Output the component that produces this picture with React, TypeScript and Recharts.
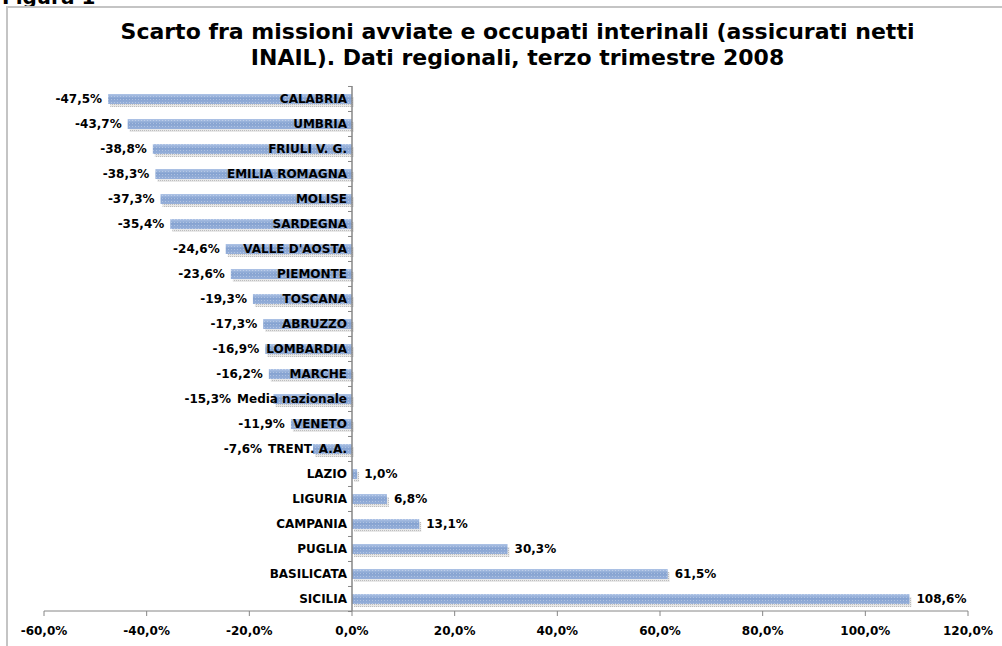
import { BarChart, Bar, XAxis, YAxis, ReferenceLine } from "recharts"

const regions = [
  "CALABRIA", "UMBRIA", "FRIULI V. G.", "EMILIA ROMAGNA", "MOLISE", "SARDEGNA",
  "VALLE D'AOSTA", "PIEMONTE", "TOSCANA", "ABRUZZO", "LOMBARDIA", "MARCHE",
  "Media nazionale", "VENETO", "TRENT. A.A.", "LAZIO", "LIGURIA", "CAMPANIA",
  "PUGLIA", "BASILICATA", "SICILIA",
]
const scarto = [
  -47.5, -43.7, -38.8, -38.3, -37.3, -35.4, -24.6, -23.6, -19.3, -17.3, -16.9,
  -16.2, -15.3, -11.9, -7.6, 1.0, 6.8, 13.1, 30.3, 61.5, 108.6,
]
const xTicks = [-60, -40, -20, 0, 20, 40, 60, 80, 100, 120]

const data = regions.map((name, i) => ({ name, value: scarto[i] }))

const FONT = "Verdana, 'DejaVu Sans', sans-serif"
const LABEL_SIZE = 12
const pct = (v: number) => v.toFixed(1).replace(".", ",") + "%"

let ctx: CanvasRenderingContext2D | null = null
function textWidth(s: string) {
  if (!ctx) ctx = document.createElement("canvas").getContext("2d")
  if (!ctx) return s.length * LABEL_SIZE * 0.7
  ctx.font = `bold ${LABEL_SIZE}px 'DejaVu Sans'`
  return ctx.measureText(s).width
}

function BarShape(props: any) {
  const { x, y, width, height, payload, index } = props
  const left = Math.min(x, x + width)
  const w = Math.abs(width)
  const neg = payload.value < 0
  const zero = neg ? left + w : left
  const cy = y + height / 2
  const band = 25.05
  const nameStart = zero - 5 - textWidth(payload.name)
  const valueX = neg ? Math.min(left, nameStart) - 6 : left + w + 7
  return (
    <g>
      <rect x={left + 2} y={y + 3} width={w} height={height} fill="url(#shadowPat)" />
      <rect x={left} y={y} width={w} height={height} fill="url(#barGrad)" />
      <rect x={left} y={y} width={w} height={height} fill="url(#barPat)" />
      <line x1={zero - 4} x2={zero} y1={cy - band / 2} y2={cy - band / 2} stroke="#868686" />
      {index === regions.length - 1 && (
        <line x1={zero - 4} x2={zero} y1={cy + band / 2} y2={cy + band / 2} stroke="#868686" />
      )}
      <text
        x={zero - 5}
        y={cy}
        dy="0.35em"
        textAnchor="end"
        fontFamily={FONT}
        fontWeight="bold"
        fontSize={LABEL_SIZE}
        fill="#000"
      >
        {payload.name}
      </text>
      <text
        x={valueX}
        y={cy}
        dy="0.35em"
        textAnchor={neg ? "end" : "start"}
        fontFamily={FONT}
        fontWeight="bold"
        fontSize={LABEL_SIZE}
        fill="#000"
      >
        {pct(payload.value)}
      </text>
    </g>
  )
}

export default function App() {
  return (
    <div
      style={{
        position: "absolute",
        left: 0,
        top: 0,
        width: 1002,
        height: 646,
        overflow: "hidden",
        background: "#fff",
        fontFamily: FONT,
      }}
    >
      <svg width={0} height={0} style={{ position: "absolute" }}>
        <defs>
          <linearGradient id="barGrad" x1="0" y1="0" x2="0" y2="1">
            <stop offset="0%" stopColor="#AFC4E6" />
            <stop offset="45%" stopColor="#86A3D1" />
            <stop offset="100%" stopColor="#97B0DA" />
          </linearGradient>
          <pattern id="barPat" width="3" height="3" patternUnits="userSpaceOnUse">
            <rect x="0" y="0" width="1" height="1" fill="#ffffff" fillOpacity="0.3" />
          </pattern>
          <pattern id="shadowPat" width="2" height="2" patternUnits="userSpaceOnUse">
            <rect x="0" y="0" width="2" height="2" fill="#e8e8e8" />
            <rect x="0" y="0" width="1" height="1" fill="#bcbcbc" />
          </pattern>
        </defs>
      </svg>
      <div
        style={{
          position: "absolute",
          left: 2,
          top: -15,
          fontWeight: "bold",
          fontSize: 20,
          fontFamily: FONT,
        }}
      >
        Figura 1
      </div>
      <div
        style={{
          position: "absolute",
          left: 6,
          top: 6,
          width: 1010,
          height: 660,
          border: "2px solid #c4c4c4",
          boxSizing: "border-box",
        }}
      />
      <div
        style={{
          position: "absolute",
          left: 0,
          top: 19,
          width: 1035,
          textAlign: "center",
          fontWeight: "bold",
          fontSize: 22,
          lineHeight: "26px",
          color: "#000",
        }}
      >
        Scarto fra missioni avviate e occupati interinali (assicurati netti
        <br />
        INAIL). Dati regionali, terzo trimestre 2008
      </div>
      <div style={{ position: "absolute", left: 0, top: 0 }}>
        <BarChart
          width={1002}
          height={646}
          data={data}
          layout="vertical"
          margin={{ top: 86, right: 34, bottom: 5, left: 44 }}
        >
          <XAxis
            type="number"
            domain={[-60, 120]}
            ticks={xTicks}
            tickFormatter={pct}
            stroke="#868686"
            tickSize={5}
            tickMargin={10}
            height={30}
            tick={{ fill: "#000", fontSize: LABEL_SIZE, fontWeight: "bold", fontFamily: FONT }}
            interval={0}
          />
          <YAxis type="category" dataKey="name" hide />
          <ReferenceLine x={0} stroke="#868686" strokeWidth={1.5} />
          <Bar dataKey="value" barSize={10} shape={BarShape} isAnimationActive={false} />
        </BarChart>
      </div>
    </div>
  )
}
